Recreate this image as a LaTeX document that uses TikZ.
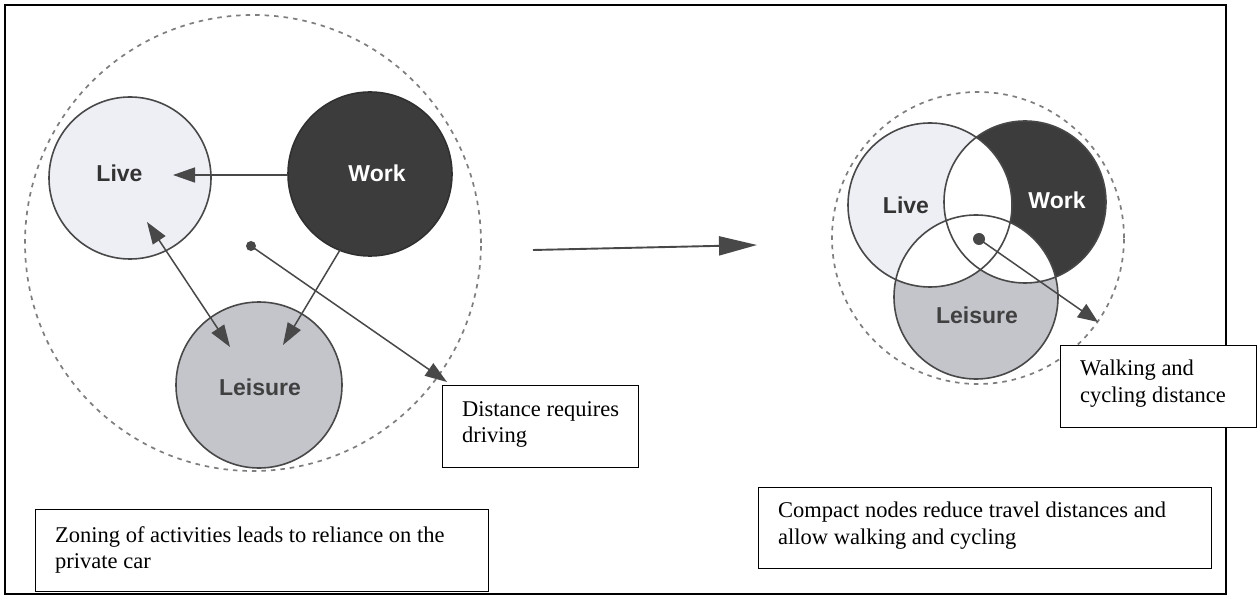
\documentclass[tikz,border=0pt]{standalone}
\usepackage{fontspec}
\setmainfont{Liberation Serif}
\newfontfamily\lblfont{Liberation Sans}
\usetikzlibrary{arrows.meta}
\definecolor{livefill}{HTML}{EEEFF5}
\definecolor{workfill}{HTML}{3C3C3C}
\definecolor{leisfill}{HTML}{C3C5CB}
\definecolor{lineg}{HTML}{484848}
\definecolor{dashg}{HTML}{7E7E7E}
\tikzset{
  ring/.style={circle, draw=lineg, line width=1.6pt, inner sep=0pt, minimum size=#1},
  zone/.style={circle, draw=dashg, dashed, dash pattern=on 4.5pt off 5pt, line width=1.7pt, inner sep=0pt, minimum size=#1},
  lbl/.style={font=\lblfont\bfseries\fontsize{23}{25}\selectfont, text=#1, inner sep=0pt},
  conn/.style={draw=lineg, line width=1.5pt, -{Triangle[length=22pt,width=15pt]}, color=lineg},
  dconn/.style={draw=lineg, line width=1.5pt, {Triangle[length=22pt,width=15pt]}-{Triangle[length=22pt,width=15pt]}, color=lineg},
  note/.style={draw=black, line width=1.2pt, fill=white, inner sep=0pt, anchor=north west},
  notetext/.style={font=\fontsize{22.5}{26.5}\selectfont, align=left, anchor=north west, inner sep=0pt},
  dot/.style={circle, fill=lineg, inner sep=0pt, minimum size=#1}
}
\begin{document}
\begin{tikzpicture}[x=1pt,y=-1pt]
\useasboundingbox (0,0) rectangle (1259,596);
\fill[white] (0,0) rectangle (1259,596);
\draw[black, line width=1.5pt] (5,5) rectangle (1226,594);

% ---------- left diagram ----------
\node[zone=456pt] (zoneL) at (253,243) {};
\fill[livefill] (130,178) circle[radius=81pt];
\fill[workfill] (370,174) circle[radius=82pt];
\fill[leisfill] (259,385) circle[radius=83pt];
\node[ring=162pt] (liveL) at (130,178) {};
\node[ring=164pt, draw=workfill!80!black] (workL) at (370,174) {};
\node[ring=166pt] (leisL) at (259,385) {};
\node[lbl=black!80] (liveLt) at (119.5,173) {Live};
\node[lbl=white] (workLt) at (377,173) {Work};
\node[lbl=black!75] (leisLt) at (260,387) {Leisure};
\node[dot=10pt] (dotL) at (251,246) {};

\coordinate (wlS) at (288,175);
\coordinate (wlT) at (173,175);
\coordinate (llA) at (147,222);
\coordinate (llB) at (230,347);
\coordinate (wsS) at (340,250);
\coordinate (wsT) at (283,345);
\coordinate (dT) at (447,382);
\draw[conn] (wlS) -- (wlT);
\draw[dconn] (llA) -- (llB);
\draw[conn] (wsS) -- (wsT);
\draw[conn] (dotL.center) -- (dT);

% ---------- middle arrow ----------
\coordinate (mA) at (533,250);
\coordinate (mB) at (757,245);
\draw[draw=lineg, line width=1.9pt, -{Triangle[length=38pt,width=19pt]}, color=lineg] (mA) -- (mB);

% ---------- right diagram ----------
\node[zone=292pt] (zoneR) at (978,238) {};
\fill[livefill] (930,205) circle[radius=82pt];
\fill[workfill] (1025,202) circle[radius=81pt];
\fill[leisfill] (976,297) circle[radius=82pt];
\begin{scope}
  \clip (930,205) circle[radius=82pt];
  \fill[white] (1025,202) circle[radius=81pt];
  \fill[white] (976,297) circle[radius=82pt];
\end{scope}
\begin{scope}
  \clip (1025,202) circle[radius=81pt];
  \fill[white] (976,297) circle[radius=82pt];
\end{scope}
\node[ring=164pt] (liveR) at (930,205) {};
\node[ring=162pt] (workR) at (1025,202) {};
\node[ring=164pt] (leisR) at (976,297) {};
\node[lbl=black!80] (liveRt) at (906,205) {Live};
\node[lbl=white] (workRt) at (1057,200) {Work};
\node[lbl=black!75] (leisRt) at (977,315) {Leisure};
\node[dot=12pt] (dotR) at (979,239) {};
\coordinate (dRT) at (1098,322);
\draw[conn, -{Triangle[length=20pt,width=16pt]}] (dotR.center) -- (dRT);

% ---------- notes ----------
\node[note, minimum width=196pt, minimum height=82pt] (bDist) at (442,385) {};
\node[notetext] (tDist) at (462,401) {Distance requires\\driving};
\node[note, minimum width=453pt, minimum height=82pt] (bZone) at (35,509) {};
\node[notetext] (tZone) at (55,526) {Zoning of activities leads to reliance on the\\private car};
\node[note, minimum width=453pt, minimum height=81pt] (bComp) at (758,487) {};
\node[notetext] (tComp) at (778,502) {Compact nodes reduce travel distances and\\allow walking and cycling};
\node[note, minimum width=196pt, minimum height=82pt] (bWalk) at (1060,345) {};
\node[notetext] (tWalk) at (1080,360) {Walking and\\cycling distance};
\end{tikzpicture}
\end{document}
